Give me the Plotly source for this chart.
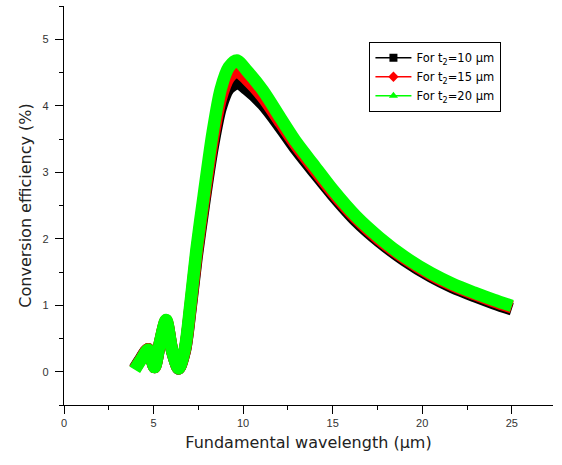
import plotly.graph_objects as go

# Fundamental wavelength (µm)
x_t10 = [3.95, 4.3, 4.7, 5.05, 5.35, 5.7, 6.05, 6.4, 6.75, 7.05, 7.4, 7.8, 8.3, 8.75, 9.2, 9.7, 10.2, 11.1, 12.1, 13.0, 14.0, 15.0, 16.3, 17.6, 19.0, 20.5, 21.7, 22.9, 24.0, 25.0]
y_t10 = [0.05, 0.20, 0.34, 0.07, 0.42, 0.76, 0.30, 0.05, 0.32, 0.92, 1.72, 2.50, 3.38, 3.97, 4.26, 4.34, 4.25, 4.02, 3.67, 3.33, 2.99, 2.66, 2.27, 1.96, 1.68, 1.43, 1.27, 1.14, 1.03, 0.94]

x_t15 = [3.95, 4.3, 4.7, 5.05, 5.35, 5.7, 6.05, 6.4, 6.75, 7.05, 7.4, 7.8, 8.3, 8.75, 9.2, 9.65, 10.2, 11.1, 12.1, 13.0, 14.0, 15.0, 16.3, 17.6, 19.0, 20.5, 21.7, 22.9, 24.0, 25.0]
y_t15 = [0.04, 0.19, 0.34, 0.07, 0.43, 0.77, 0.30, 0.05, 0.33, 0.95, 1.78, 2.57, 3.48, 4.10, 4.42, 4.52, 4.40, 4.13, 3.74, 3.39, 3.04, 2.70, 2.31, 1.99, 1.71, 1.46, 1.30, 1.17, 1.06, 0.97]

x_t20 = [3.95, 4.3, 4.7, 5.05, 5.35, 5.7, 6.05, 6.4, 6.75, 7.05, 7.4, 7.8, 8.3, 8.75, 9.2, 9.65, 10.2, 11.1, 12.1, 13.0, 14.0, 15.0, 16.3, 17.6, 19.0, 20.5, 21.7, 22.9, 24.0, 25.0]
y_t20 = [0.03, 0.18, 0.33, 0.07, 0.43, 0.78, 0.30, 0.05, 0.35, 1.00, 1.85, 2.65, 3.60, 4.25, 4.58, 4.68, 4.53, 4.23, 3.81, 3.44, 3.09, 2.74, 2.34, 2.02, 1.73, 1.48, 1.32, 1.19, 1.08, 0.99]

series_names = ["For t<sub>2</sub>=10 µm", "For t<sub>2</sub>=15 µm", "For t<sub>2</sub>=20 µm"]
series_colors = ["#000000", "#ff0000", "#00ff00"]
series_symbols = ["square", "diamond", "triangle-up"]

x_ticks = [0, 5, 10, 15, 20, 25]
y_ticks = [0, 1, 2, 3, 4, 5]

fig = go.Figure()
data = [(x_t10, y_t10), (x_t15, y_t15), (x_t20, y_t20)]
for (xs, ys), name, col in zip(data, series_names, series_colors):
    fig.add_trace(go.Scatter(
        x=xs, y=ys, mode="lines", showlegend=False, hoverinfo="skip",
        line=dict(color=col, width=12.5, shape="spline", smoothing=0.8),
    ))

for name, col, sym in zip(series_names, series_colors, series_symbols):
    fig.add_trace(go.Scatter(
        x=[None], y=[None], mode="lines+markers", name=name,
        line=dict(color=col, width=1.5),
        marker=dict(color=col, symbol=sym, size=8),
    ))

axis_common = dict(
    showline=True, linecolor="black", linewidth=1.3, mirror=False,
    ticks="outside", ticklen=8, tickwidth=1.3, tickcolor="black",
    showgrid=False, zeroline=False, automargin=False,
    tickfont=dict(family="Liberation Sans, Arial", size=11, color="#333333"),
)

fig.update_xaxes(
    range=[0, 27.3], tickvals=x_ticks, ticktext=[str(v) for v in x_ticks],
    minor=dict(ticks="outside", ticklen=4, tickwidth=1.3, tickcolor="black", dtick=2.5, tick0=0),
    title=dict(text="Fundamental wavelength (µm)", standoff=8,
               font=dict(family="DejaVu Sans", size=16, color="#222222")),
    **axis_common,
)
fig.update_yaxes(
    range=[-0.5, 5.5], tickvals=y_ticks, ticktext=[str(v) for v in y_ticks],
    minor=dict(ticks="outside", ticklen=4, tickwidth=1.3, tickcolor="black", dtick=0.5, tick0=0),
    title=dict(text="Conversion efficiency (%)", standoff=6,
               font=dict(family="DejaVu Sans", size=16, color="#222222")),
    ticklabelstandoff=4,
    **axis_common,
)

fig.update_layout(
    width=562, height=465,
    margin=dict(l=64, r=9, t=6, b=60),
    paper_bgcolor="white", plot_bgcolor="white",
    legend=dict(
        x=0.624, y=0.91, xanchor="left", yanchor="top",
        bgcolor="white", bordercolor="black", borderwidth=1.3,
        font=dict(family="DejaVu Sans", size=11.5, color="black"),
        itemwidth=36, tracegroupgap=0,
    ),
)

fig.write_html(
    "out.html",
    config={"displayModeBar": False},
    post_script="document.body.style.margin='0px';document.body.style.overflow='hidden';",
)
